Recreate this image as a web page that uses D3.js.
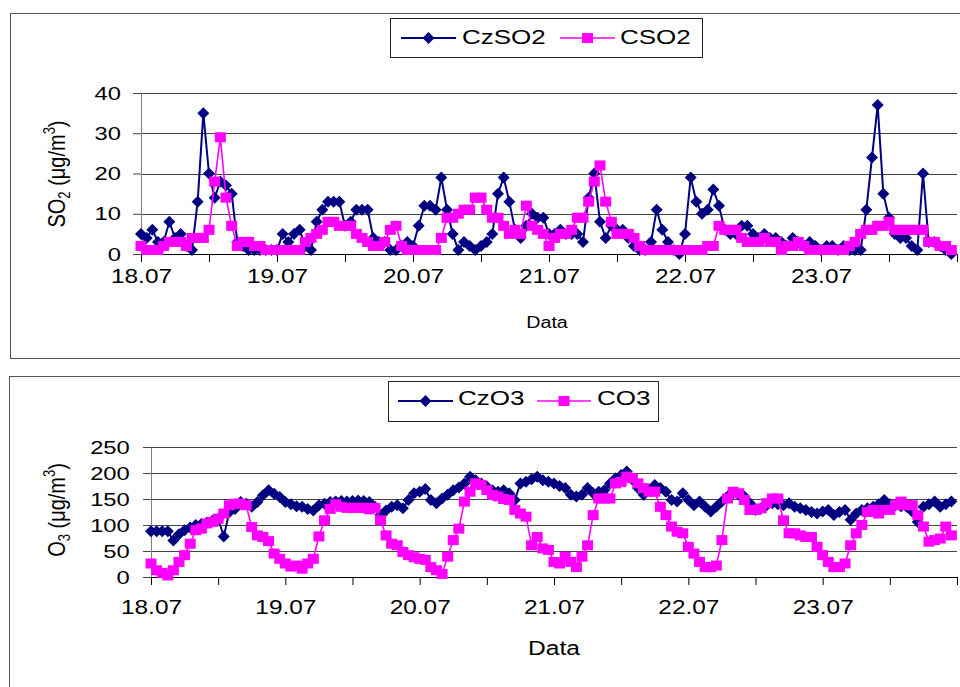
<!DOCTYPE html>
<html>
<head>
<meta charset="utf-8">
<script src="https://cdn.jsdelivr.net/npm/d3@7"></script>
<style>
body { margin: 0; background: #fff; }
text { font-family: "Liberation Sans", Arial, sans-serif; fill: #000; }
</style>
</head>
<body>
<script>
// hourly series, 18.07 00:00 .. 23.07 23:00
var dayLabels = ['18.07', '19.07', '20.07', '21.07', '22.07', '23.07'];
var so2Ticks = [0, 10, 20, 30, 40];
var o3Ticks = [0, 50, 100, 150, 200, 250];

var czSO2 = [5,4,6,3,3,8,4,5,2,1,13,35,20,14,18,17,15,3,2,1,1,1,1,1,
             1,5,3,5,6,2,1,8,11,13,13,13,7,8,11,11,11,4,3,3,1,1,2,3,
             2,7,12,12,11,19,11,5,1,3,2,1,2,3,5,15,19,13,6,4,7,10,9,9,
             5,5,6,5,5,5,3,14,20,8,4,7,6,6,4,2,1,1,3,11,6,3,1,0,
             5,19,13,10,11,16,12,6,5,5,7,7,5,4,5,4,4,3,2,4,3,2,3,2,
             1,2,2,1,2,1,1,1,11,24,37,15,9,5,4,4,2,1,20,3,3,2,1,0];
var cSO2 = [2,1,1,1,2,3,3,3,2,4,4,4,6,18,29,14,7,2,3,3,2,2,1,1,
            1,1,1,1,1,3,4,5,6,8,8,7,7,7,5,4,3,2,2,3,6,7,2,1,
            1,1,1,1,1,4,9,9,10,11,11,14,14,11,9,9,7,5,6,5,12,7,6,5,
            2,4,5,5,6,9,9,13,18,22,13,8,5,5,5,4,2,1,1,1,1,1,1,1,
            1,1,1,1,2,2,7,6,6,6,4,3,3,3,4,3,3,1,2,2,3,2,1,1,
            1,1,1,1,1,2,3,5,6,6,7,7,8,6,6,6,6,6,6,3,3,2,2,1];
var czO3 = [88,88,88,88,70,82,90,95,100,102,105,108,112,78,125,131,144,141,135,144,157,167,160,154,
            144,140,136,135,131,128,138,141,144,145,146,145,146,147,146,144,135,119,128,135,138,132,148,161,
            164,169,148,142,151,158,167,172,180,193,186,180,174,167,164,167,161,148,180,183,188,193,186,183,
            180,175,171,158,155,158,171,161,164,167,180,190,196,203,187,171,158,168,177,171,164,148,145,161,
            148,138,145,135,126,135,145,155,161,158,155,142,129,132,138,142,140,138,142,135,132,129,125,122,
            126,129,119,125,129,110,122,129,132,135,140,148,140,138,136,135,126,106,135,140,145,135,140,145];
var cO3 = [26,13,8,3,13,29,42,64,90,93,103,106,112,122,138,141,141,138,96,80,77,69,45,35,
           26,20,22,16,26,35,78,109,131,140,135,133,133,133,133,130,133,109,80,64,61,48,42,38,
           35,33,19,13,6,39,71,93,145,164,180,177,167,158,155,150,148,129,122,116,61,77,55,52,
           29,26,39,29,19,39,61,119,151,151,151,180,183,193,190,180,171,164,164,135,119,97,87,84,
           58,45,29,19,19,22,71,151,164,161,148,129,129,132,142,151,151,109,84,84,80,77,77,58,
           42,29,19,19,26,61,84,100,125,129,122,129,129,138,145,138,138,119,97,68,71,74,97,80];

var NAVY = '#000080', PINK = '#ff00ff';

var svg = d3.select('body').append('svg')
    .attr('width', 960).attr('height', 687)
    .style('background', '#fff');

function diamond(s) { return 'M0,' + (-s) + 'L' + s + ',0L0,' + s + 'L' + (-s) + ',0Z'; }
var SQUARE = 'M-5.5,-5h11v10h-11Z';

// text squeezed wider like the original bitmap
function wideText(g, str, x, y, size, anchor, sx) {
    return g.append('text')
        .attr('transform', 'translate(' + x + ',' + y + ') scale(' + sx + ',1)')
        .attr('font-size', size)
        .attr('text-anchor', anchor)
        .text(str);
}

function drawPanel(o) {
    var g = svg.append('g');

    g.append('rect')
        .attr('x', o.box[0] + 0.5).attr('y', o.box[1] + 0.5)
        .attr('width', o.box[2]).attr('height', o.box[3])
        .attr('fill', 'none').attr('stroke', '#555');

    var x = d3.scaleLinear().domain([0, 144]).range([o.left, o.right]);
    var y = d3.scaleLinear().domain([0, o.ticks[o.ticks.length - 1]]).range([o.bottom, o.top]);

    // gridlines
    g.selectAll('line.grid')
        .data(o.ticks.slice(1))
        .enter().append('line')
        .attr('class', 'grid')
        .attr('x1', o.left).attr('x2', o.right)
        .attr('y1', function(d) { return Math.round(y(d)) + 0.5; })
        .attr('y2', function(d) { return Math.round(y(d)) + 0.5; })
        .attr('stroke', '#444');

    var yAxis = d3.axisLeft(y).tickValues(o.ticks).tickSize(8).tickSizeOuter(0).tickPadding(o.yPad);
    var ya = g.append('g').attr('transform', 'translate(' + o.left + ',0)').call(yAxis);
    ya.select('.domain').attr('stroke', '#808080');
    ya.selectAll('.tick line').attr('stroke', '#444');
    ya.selectAll('text').attr('font-size', 19).attr('transform', 'scale(1.25,1)');

    var xAxis = d3.axisBottom(x)
        .tickValues(d3.range(0, 145, 12))
        .tickFormat(function(d) { return (d % 24 === 0 && d / 24 < dayLabels.length) ? dayLabels[d / 24] : ''; })
        .tickSize(8).tickSizeOuter(0).tickPadding(o.xPad);
    var xa = g.append('g').attr('transform', 'translate(0,' + o.bottom + ')').call(xAxis);
    xa.select('.domain').attr('stroke', '#000');
    xa.selectAll('.tick line').attr('stroke', '#000');
    xa.selectAll('text').attr('font-size', 20).attr('transform', 'scale(1.22,1)');

    // series: line then markers, navy first so pink sits on top
    o.series.forEach(function(s) {
        var line = d3.line()
            .x(function(d, i) { return x(i); })
            .y(function(d) { return y(d); });
        g.append('path')
            .attr('d', line(s.values))
            .attr('fill', 'none')
            .attr('stroke', s.color)
            .attr('stroke-width', s.width);

        g.selectAll('path.m' + s.name)
            .data(s.values)
            .enter().append('path')
            .attr('class', 'm' + s.name)
            .attr('transform', function(d, i) { return 'translate(' + x(i) + ',' + y(d) + ')'; })
            .attr('d', s.shape === 'diamond' ? diamond(6) : SQUARE)
            .attr('fill', s.color);
    });

    // axis titles
    wideText(g, 'Data', o.dataX, o.dataY, o.dataSize, 'middle', 1.23);

    var yt = g.append('text')
        .attr('transform', 'translate(' + o.ytX + ',' + o.ytY + ') scale(1.2,1) rotate(-90)')
        .attr('font-size', 20)
        .attr('text-anchor', 'middle');
    yt.append('tspan').text(o.ytMain);
    yt.append('tspan').attr('font-size', 13).attr('dy', 4).text(o.ytSub);
    yt.append('tspan').attr('dy', -4).text(' (\u03bcg/m');
    yt.append('tspan').attr('font-size', 13).attr('dy', -8).text('3');
    yt.append('tspan').attr('dy', 8).text(')');

    // legend
    var L = o.legend;
    g.append('rect')
        .attr('x', L.box[0] + 0.5).attr('y', L.box[1] + 0.5)
        .attr('width', L.box[2]).attr('height', L.box[3])
        .attr('fill', '#fff').attr('stroke', '#222');
    L.items.forEach(function(it, k) {
        var s = o.series[k];
        g.append('line')
            .attr('x1', it.x1).attr('x2', it.x2)
            .attr('y1', L.lineY).attr('y2', L.lineY)
            .attr('stroke', s.color).attr('stroke-width', s.width);
        var mx = (it.x1 + it.x2) / 2;
        g.append('path')
            .attr('transform', 'translate(' + mx + ',' + L.lineY + ')')
            .attr('d', s.shape === 'diamond' ? diamond(6) : SQUARE)
            .attr('fill', s.color);
        wideText(g, s.name, it.tx, L.textY, 20, 'start', 1.3);
    });
}

drawPanel({
    box: [10, 13, 960, 345],
    left: 141, right: 957, top: 93, bottom: 254,
    ticks: so2Ticks, yPad: 8, xPad: 7,
    series: [
        {name: 'CzSO2', values: czSO2, color: NAVY, width: 2, shape: 'diamond'},
        {name: 'CSO2', values: cSO2, color: PINK, width: 1.6, shape: 'square'}
    ],
    dataX: 547, dataY: 328, dataSize: 16,
    ytX: 65, ytY: 174, ytMain: 'SO', ytSub: '2',
    legend: {
        box: [390, 18, 312, 39], lineY: 38, textY: 44,
        items: [{x1: 401, x2: 456, tx: 462}, {x1: 560, x2: 615, tx: 620}]
    }
});

drawPanel({
    box: [9, 376, 960, 320],
    left: 151, right: 957, top: 447, bottom: 577,
    ticks: o3Ticks, yPad: 9, xPad: 15,
    series: [
        {name: 'CzO3', values: czO3, color: NAVY, width: 2, shape: 'diamond'},
        {name: 'CO3', values: cO3, color: PINK, width: 1.6, shape: 'square'}
    ],
    dataX: 554, dataY: 655, dataSize: 20,
    ytX: 65, ytY: 510, ytMain: 'O', ytSub: '3',
    legend: {
        box: [388, 381, 270, 40], lineY: 401, textY: 405,
        items: [{x1: 398, x2: 453, tx: 458}, {x1: 537, x2: 591, tx: 597}]
    }
});
</script>
</body>
</html>
